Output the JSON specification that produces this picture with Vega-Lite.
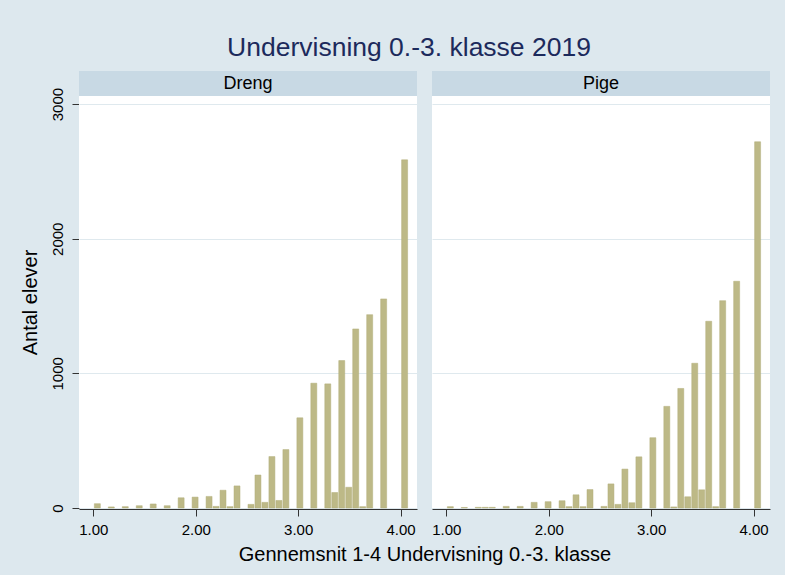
{
  "$schema": "https://vega.github.io/schema/vega-lite/v6.json",
  "background": "#dde8ee",
  "padding": {"left": 20, "top": 34, "right": 15, "bottom": 10},
  "title": {"text": "Undervisning 0.-3. klasse 2019", "fontSize": 26.5, "font": "Liberation Sans", "fontWeight": "normal", "color": "#1c2a5c", "anchor": "middle", "dx": 14, "offset": 10},
  "datasets": {
    "paneler": [{"koen": "Dreng"}, {"koen": "Pige"}],
    "soejler": [
      {"koen": "Dreng", "fra": 1.0, "til": 1.0682, "antal": 32},
      {"koen": "Dreng", "fra": 1.1364, "til": 1.2045, "antal": 8},
      {"koen": "Dreng", "fra": 1.2727, "til": 1.3409, "antal": 10},
      {"koen": "Dreng", "fra": 1.4091, "til": 1.4773, "antal": 17},
      {"koen": "Dreng", "fra": 1.5455, "til": 1.6136, "antal": 30},
      {"koen": "Dreng", "fra": 1.6818, "til": 1.75, "antal": 17},
      {"koen": "Dreng", "fra": 1.8182, "til": 1.8864, "antal": 76},
      {"koen": "Dreng", "fra": 1.9545, "til": 2.0227, "antal": 81},
      {"koen": "Dreng", "fra": 2.0909, "til": 2.1591, "antal": 86},
      {"koen": "Dreng", "fra": 2.1591, "til": 2.2273, "antal": 12},
      {"koen": "Dreng", "fra": 2.2273, "til": 2.2955, "antal": 132},
      {"koen": "Dreng", "fra": 2.2955, "til": 2.3636, "antal": 10},
      {"koen": "Dreng", "fra": 2.3636, "til": 2.4318, "antal": 164},
      {"koen": "Dreng", "fra": 2.5, "til": 2.5682, "antal": 27},
      {"koen": "Dreng", "fra": 2.5682, "til": 2.6364, "antal": 245},
      {"koen": "Dreng", "fra": 2.6364, "til": 2.7045, "antal": 42},
      {"koen": "Dreng", "fra": 2.7045, "til": 2.7727, "antal": 382},
      {"koen": "Dreng", "fra": 2.7727, "til": 2.8409, "antal": 56},
      {"koen": "Dreng", "fra": 2.8409, "til": 2.9091, "antal": 434},
      {"koen": "Dreng", "fra": 2.9773, "til": 3.0455, "antal": 670},
      {"koen": "Dreng", "fra": 3.1136, "til": 3.1818, "antal": 927},
      {"koen": "Dreng", "fra": 3.25, "til": 3.3182, "antal": 922},
      {"koen": "Dreng", "fra": 3.3182, "til": 3.3864, "antal": 115},
      {"koen": "Dreng", "fra": 3.3864, "til": 3.4545, "antal": 1095},
      {"koen": "Dreng", "fra": 3.4545, "til": 3.5227, "antal": 154},
      {"koen": "Dreng", "fra": 3.5227, "til": 3.5909, "antal": 1330},
      {"koen": "Dreng", "fra": 3.5909, "til": 3.6591, "antal": 10},
      {"koen": "Dreng", "fra": 3.6591, "til": 3.7273, "antal": 1436},
      {"koen": "Dreng", "fra": 3.7955, "til": 3.8636, "antal": 1553},
      {"koen": "Dreng", "fra": 4.0, "til": 4.0682, "antal": 2586},
      {"koen": "Pige", "fra": 1.0, "til": 1.0682, "antal": 10},
      {"koen": "Pige", "fra": 1.1364, "til": 1.2045, "antal": 4},
      {"koen": "Pige", "fra": 1.2727, "til": 1.3409, "antal": 5},
      {"koen": "Pige", "fra": 1.3409, "til": 1.4091, "antal": 5},
      {"koen": "Pige", "fra": 1.4091, "til": 1.4773, "antal": 5},
      {"koen": "Pige", "fra": 1.5455, "til": 1.6136, "antal": 12},
      {"koen": "Pige", "fra": 1.6818, "til": 1.75, "antal": 12},
      {"koen": "Pige", "fra": 1.8182, "til": 1.8864, "antal": 42},
      {"koen": "Pige", "fra": 1.9545, "til": 2.0227, "antal": 47},
      {"koen": "Pige", "fra": 2.0909, "til": 2.1591, "antal": 54},
      {"koen": "Pige", "fra": 2.1591, "til": 2.2273, "antal": 10},
      {"koen": "Pige", "fra": 2.2273, "til": 2.2955, "antal": 98},
      {"koen": "Pige", "fra": 2.2955, "til": 2.3636, "antal": 10},
      {"koen": "Pige", "fra": 2.3636, "til": 2.4318, "antal": 137},
      {"koen": "Pige", "fra": 2.5, "til": 2.5682, "antal": 12},
      {"koen": "Pige", "fra": 2.5682, "til": 2.6364, "antal": 179},
      {"koen": "Pige", "fra": 2.6364, "til": 2.7045, "antal": 27},
      {"koen": "Pige", "fra": 2.7045, "til": 2.7727, "antal": 289},
      {"koen": "Pige", "fra": 2.7727, "til": 2.8409, "antal": 39},
      {"koen": "Pige", "fra": 2.8409, "til": 2.9091, "antal": 380},
      {"koen": "Pige", "fra": 2.9773, "til": 3.0455, "antal": 522},
      {"koen": "Pige", "fra": 3.1136, "til": 3.1818, "antal": 755},
      {"koen": "Pige", "fra": 3.1818, "til": 3.25, "antal": 8},
      {"koen": "Pige", "fra": 3.25, "til": 3.3182, "antal": 888},
      {"koen": "Pige", "fra": 3.3182, "til": 3.3864, "antal": 83},
      {"koen": "Pige", "fra": 3.3864, "til": 3.4545, "antal": 1075},
      {"koen": "Pige", "fra": 3.4545, "til": 3.5227, "antal": 135},
      {"koen": "Pige", "fra": 3.5227, "til": 3.5909, "antal": 1387},
      {"koen": "Pige", "fra": 3.5909, "til": 3.6591, "antal": 10},
      {"koen": "Pige", "fra": 3.6591, "til": 3.7273, "antal": 1540},
      {"koen": "Pige", "fra": 3.7955, "til": 3.8636, "antal": 1684},
      {"koen": "Pige", "fra": 4.0, "til": 4.0682, "antal": 2720}
    ]
  },
  "spacing": -9,
  "vconcat": [
    {
      "data": {"name": "paneler"},
      "facet": {"column": {"field": "koen", "type": "nominal", "header": null}},
      "spacing": 15,
      "spec": {
        "width": 338,
        "height": 25,
        "view": {"fill": "#c8d9e4", "stroke": null},
        "mark": {"type": "text", "fontSize": 18, "font": "Liberation Sans", "color": "#000000"},
        "encoding": {"text": {"field": "koen", "type": "nominal"}}
      }
    },
    {
      "data": {"name": "soejler"},
      "facet": {
        "column": {
          "field": "koen",
          "type": "nominal",
          "title": "Gennemsnit 1-4 Undervisning 0.-3. klasse",
          "header": {"labels": false, "titleOrient": "bottom", "titleFontSize": 20, "titleFont": "Liberation Sans", "titleFontWeight": "normal", "titleColor": "#000000", "titlePadding": -2}
        }
      },
      "spacing": 15,
      "spec": {
        "width": 338,
        "height": 412,
        "view": {"fill": "#ffffff", "stroke": null},
        "mark": {"type": "bar", "color": "#bdb987", "stroke": "#b3af7b", "strokeWidth": 0.5},
        "encoding": {
          "x": {
            "field": "fra", "type": "quantitative", "bin": "binned",
            "scale": {"domain": [0.86, 4.16], "nice": false, "zero": false},
            "axis": {"values": [1, 2, 3, 4], "format": ".2f", "title": null, "grid": false, "labelPadding": 6}
          },
          "x2": {"field": "til"},
          "y": {
            "field": "antal", "type": "quantitative",
            "scale": {"domain": [0, 3060], "nice": false},
            "axis": {"values": [0, 1000, 2000, 3000], "format": "d", "title": "Antal elever", "grid": true, "labelAngle": 270, "labelAlign": "center", "labelBaseline": "bottom", "labelPadding": 7, "titlePadding": 10}
          }
        }
      }
    }
  ],
  "config": {
    "font": "Liberation Sans",
    "view": {"stroke": null},
    "axis": {
      "labelFont": "Liberation Sans",
      "labelFontSize": 15,
      "labelColor": "#000000",
      "titleFont": "Liberation Sans",
      "titleFontSize": 20,
      "titleFontWeight": "normal",
      "titleColor": "#000000",
      "tickSize": 7,
      "tickColor": "#333333",
      "domainColor": "#333333",
      "gridColor": "#dfe9ee",
      "gridWidth": 1.2,
      "labelPadding": 4
    }
  }
}
